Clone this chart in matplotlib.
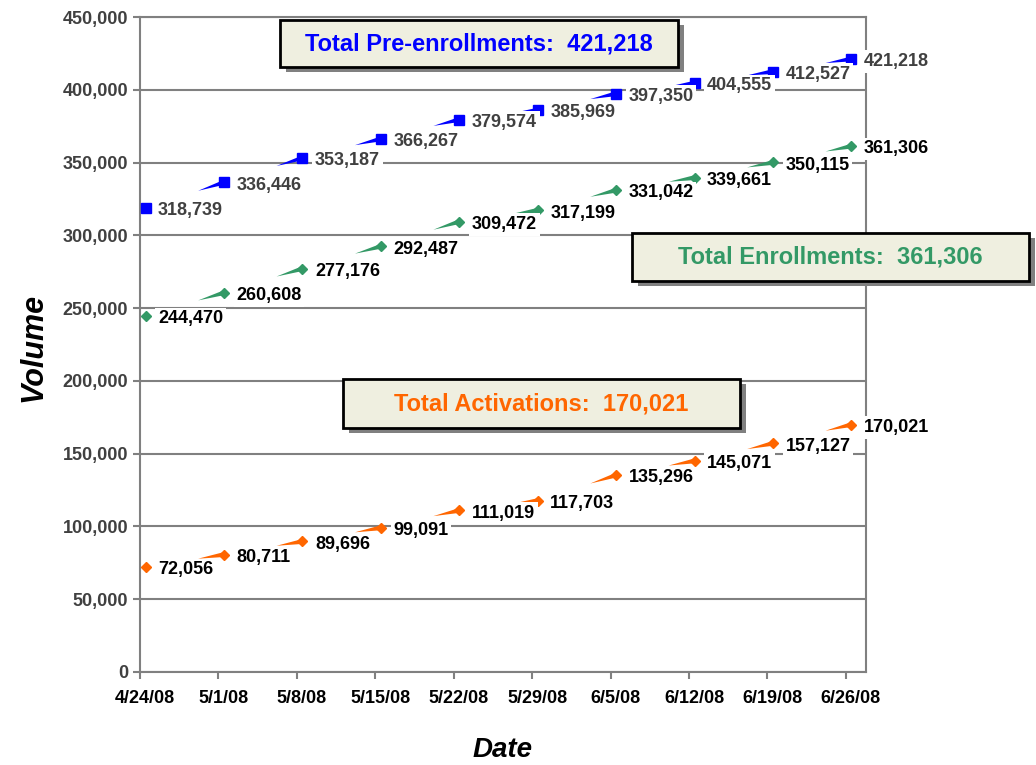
import numpy as np
import matplotlib
matplotlib.use("Agg")
import matplotlib.pyplot as plt
from matplotlib.patches import Rectangle, Polygon
from matplotlib.ticker import FuncFormatter
import matplotlib.transforms as mtransforms

plt.rcParams['font.family'] = ['Liberation Sans', 'DejaVu Sans']

# data
dates = ["4/24/08", "5/1/08", "5/8/08", "5/15/08", "5/22/08",
         "5/29/08", "6/5/08", "6/12/08", "6/19/08", "6/26/08"]
days = [0, 7, 14, 21, 28, 35, 42, 49, 56, 63]
pre_enroll = [318739, 336446, 353187, 366267, 379574, 385969, 397350, 404555, 412527, 421218]
enroll = [244470, 260608, 277176, 292487, 309472, 317199, 331042, 339661, 350115, 361306]
activ = [72056, 80711, 89696, 99091, 111019, 117703, 135296, 145071, 157127, 170021]

W, H = 1036, 765
fig = plt.figure(figsize=(W / 100, H / 100), dpi=100)
ax = fig.add_axes([140 / W, 1 - 672 / H, (866 - 140) / W, (672 - 17) / H])

x = np.array(days) + 0.5
gray = '#808080'

series = [
    (pre_enroll, '#0000FF', 's', 6.5, '#404040'),
    (enroll, '#339966', 'D', 5.5, 'black'),
    (activ, '#FF6600', 'D', 5.5, 'black'),
]

for vals, col, mk, ms, lab_col in series:
    y = np.array(vals, dtype=float)
    # thin tapered tails before each point (how the original lines render)
    for i in range(1, len(x)):
        dx = x[i] - x[i - 1]
        dy = y[i] - y[i - 1]
        f = 0.33
        xs, ys = x[i] - f * dx, y[i] - f * dy
        h = 1700
        ax.add_patch(Polygon([(xs, ys), (x[i], y[i] + h), (x[i], y[i] - h)],
                             closed=True, facecolor=col, edgecolor='none', zorder=3))
    ax.plot(x, y, linestyle='none', marker=mk, markersize=ms, color=col, zorder=4)
    for xi, yi in zip(x, y):
        ax.annotate(f"{int(yi):,}", (xi, yi), xytext=(9, -2), textcoords='offset points',
                    ha='left', va='center', fontsize=13, fontweight='bold', color=lab_col,
                    bbox=dict(boxstyle='square,pad=0.15', facecolor='white', edgecolor='none'),
                    zorder=5)

ax.set_xlim(0, 64.8)
ax.set_ylim(0, 450000)
ax.set_yticks(np.arange(0, 450001, 50000))
ax.yaxis.set_major_formatter(FuncFormatter(lambda v, p: f"{int(v):,}"))
ax.set_xticks(days)
ax.set_xticklabels(dates)
ax.grid(axis='y', color=gray, linewidth=1.5, zorder=0)
ax.set_axisbelow(True)
for s in ax.spines.values():
    s.set_color(gray)
    s.set_linewidth(1.5)
ax.tick_params(axis='both', colors=gray, width=1.5, length=5, direction='out')
ax.tick_params(axis='y', labelcolor='#404040', labelsize=13)
ax.tick_params(axis='x', labelcolor='black', labelsize=13, pad=8)
for lbl in ax.get_yticklabels() + ax.get_xticklabels():
    lbl.set_fontweight('bold')
shift = mtransforms.ScaledTranslation(5 / 100, 0, fig.dpi_scale_trans)
for lbl in ax.get_xticklabels():
    lbl.set_transform(lbl.get_transform() + shift)

fig.text(33 / W, 1 - 347 / H, "Volume", rotation=90, ha='center', va='center',
         fontsize=22, fontweight='bold', fontstyle='italic')
fig.text(503 / W, 1 - 750 / H, "Date", ha='center', va='center',
         fontsize=20, fontweight='bold', fontstyle='italic')

# summary boxes
boxes = [
    ("Total Pre-enrollments:  421,218", '#0000FF', 280, 20, 678, 67),
    ("Total Enrollments:  361,306", '#339966', 632, 233, 1029, 281),
    ("Total Activations:  170,021", '#FF6600', 343, 379, 740, 428),
]
for txt, col, x0, y0, x1, y1 in boxes:
    fig.add_artist(Rectangle(((x0 + 6) / W, 1 - (y1 + 5) / H), (x1 - x0) / W, (y1 - y0) / H,
                             transform=fig.transFigure, facecolor='#808080',
                             edgecolor='none', zorder=6))
    fig.add_artist(Rectangle((x0 / W, 1 - y1 / H), (x1 - x0) / W, (y1 - y0) / H,
                             transform=fig.transFigure, facecolor='#EFEFE0',
                             edgecolor='black', linewidth=2, zorder=7))
    fig.text((x0 + x1) / 2 / W, 1 - (y0 + y1) / 2 / H, txt, ha='center', va='center',
             fontsize=17, fontweight='bold', color=col, zorder=8)

fig.savefig("out.png", dpi=100)
